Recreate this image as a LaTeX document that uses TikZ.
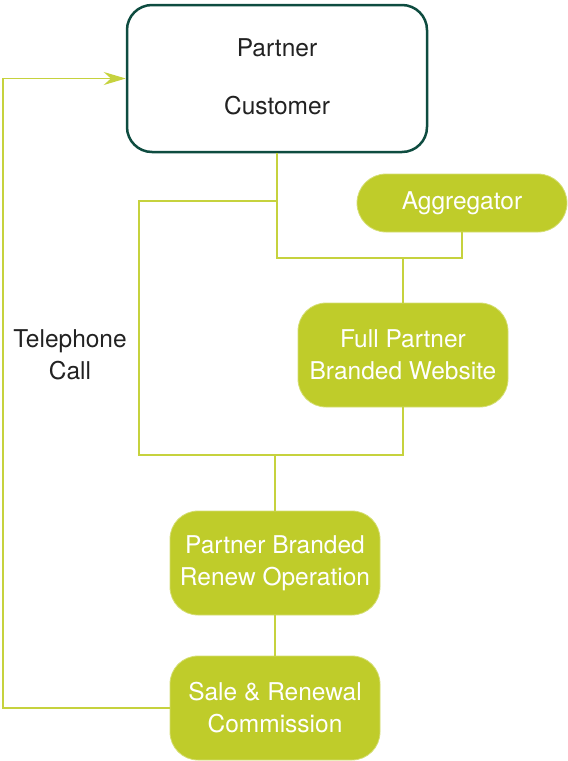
\documentclass[tikz,border=0pt]{standalone}
\usepackage{fontspec}
\setmainfont{TeX Gyre Heros}
\usepackage{tikz}
\usetikzlibrary{arrows.meta}
\definecolor{lime}{HTML}{BFCC2A}
\definecolor{limeline}{HTML}{C6D23E}
\definecolor{limeedge}{HTML}{D5DE73}
\definecolor{pine}{HTML}{0E4C40}
\definecolor{ink}{HTML}{222222}

\begin{document}
\begin{tikzpicture}[x=1pt, y=-1pt, every path/.style={draw=limeline, line width=1.3pt},
	every node/.style={font=\fontsize{24.5}{32}\selectfont, align=center},
	box/.style={fill=lime, draw=limeedge, line width=0.8pt, text=white, rounded corners=28pt, minimum width=210pt, minimum height=104pt}]
			\useasboundingbox[draw=none] (0,0) rectangle (568,761);
			\node[draw=pine, line width=2.5pt, fill=white, text=ink, rounded corners=25pt, minimum width=300pt, minimum height=147pt] (cust) at (277,78.5) {\raisebox{3pt}{Partner}\\[26pt]\raisebox{3pt}{Customer}};
			\node[box, minimum height=58pt, rounded corners=29pt] (agg) at (462,203) {Aggregator};
			\node[box] (web) at (403,355) {Full Partner\\Branded Website};
			\node[box] (renew) at (275,563) {Partner Branded\\Renew Operation};
			\node[box] (sale) at (275,708) {Sale \& Renewal\\Commission};
			\node[text=ink] (call) at (70,355) {Telephone\\Call};
			
			\coordinate (j0) at (139,201);
			\coordinate (j1) at (277,258);
			\coordinate (j2) at (275,455);
			\coordinate (j3) at (3,78.5);
			
			\path (cust.south) -- (j1) -| (agg.south);
			\path (web.north) -- (web.north |- j1);
			\path (cust.south |- j0) -- (j0) |- (web.south |- j2) -- (web.south);
			\path (j2) -- (renew.north);
			\path (renew) -- (sale);
			\path[-{Stealth[length=22pt, width=13pt]}] (sale.west) -| (j3) -- (cust.west);
			\end{tikzpicture}
\end{document}
